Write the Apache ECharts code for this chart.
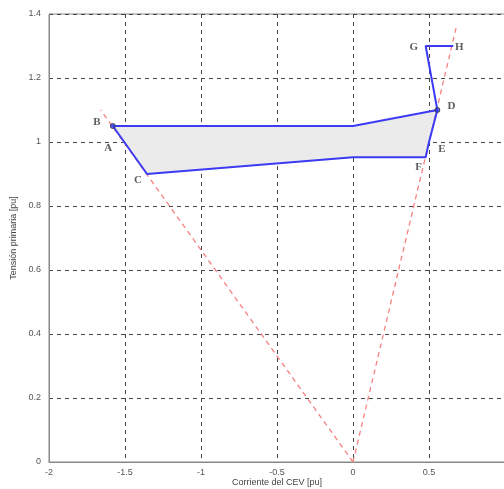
<!DOCTYPE html>
<html><head><meta charset="utf-8">
<script src="https://cdn.jsdelivr.net/npm/echarts@6/dist/echarts.min.js"></script>
<style>html,body{margin:0;padding:0;background:#fff}#c{width:504px;height:489px}</style>
</head><body><div id="c"></div>
<script>
// Blue operating path (x = current, y = voltage)
const pathX = [0.66, 0.478, 0.555, 0, -1.58, -1.505, -1.355, 0, 0.478, 0.50, 0.555];
const pathY = [1.30, 1.30, 1.10, 1.05, 1.05, 1.00, 0.90, 0.952, 0.952, 1.00, 1.10];
// Shaded region
const polyX = [-1.58, 0, 0.555, 0.50, 0.478, 0, -1.355, -1.505];
const polyY = [1.05, 1.05, 1.10, 1.00, 0.952, 0.952, 0.90, 1.00];
// Red dashed reference lines through the origin
const refLeftX = [0, -1.66], refLeftY = [0, 1.10];
const refRightX = [0, 0.68], refRightY = [0, 1.36];
// Point labels
const ptNames = ['A', 'B', 'C', 'D', 'E', 'F', 'G', 'H'];
const ptX = [-1.505, -1.58, -1.355, 0.555, 0.50, 0.478, 0.478, 0.66];
const ptY = [1.00, 1.05, 0.90, 1.10, 1.00, 0.952, 1.30, 1.30];
const ptOffsets = [[-16, 6], [-16, -4], [-9, 6], [14, -4], [13, 7], [-7, 10], [-12, 1], [6, 1]];
// Markers
const mkX = [-1.58, 0.555];
const mkY = [1.05, 1.10];
// Ticks
const xTicks = [-2, -1.5, -1, -0.5, 0, 0.5, 1];
const yTicks = [0, 0.2, 0.4, 0.6, 0.8, 1, 1.2, 1.4];

const zip = (a, b) => a.map((v, i) => [v, b[i]]);
const chart = echarts.init(document.getElementById('c'));
const gridLine = {show: true, lineStyle: {color: '#444', type: [4, 4], width: 1}};
chart.setOption({
  animation: false,
  grid: {left: 49, top: 14, width: 456, height: 448, containLabel: false, outerBoundsMode: 'none',
    show: true, borderColor: '#888', borderWidth: 1},
  xAxis: {
    type: 'value', min: -2, max: 1, interval: 0.5,
    name: 'Corriente del CEV [pu]', nameLocation: 'middle', nameGap: 16, nameMoveOverlap: false,
    nameTextStyle: {fontFamily: 'Liberation Sans', fontSize: 9, color: '#444'},
    axisLine: {show: true, onZero: false, lineStyle: {color: '#888'}},
    axisTick: {show: false},
    axisLabel: {fontFamily: 'Liberation Sans', fontSize: 9, color: '#555', margin: 6,
      formatter: v => xTicks.indexOf(v) >= 0 && v !== 1 ? String(v) : ''},
    splitLine: gridLine
  },
  yAxis: {
    type: 'value', min: 0, max: 1.4, interval: 0.2,
    name: 'Tensión primaria [pu]', nameLocation: 'middle', nameGap: 31, nameMoveOverlap: false,
    nameTextStyle: {fontFamily: 'Liberation Sans', fontSize: 9, color: '#444'},
    axisLine: {show: true, onZero: false, lineStyle: {color: '#888'}},
    axisTick: {show: false},
    axisLabel: {fontFamily: 'Liberation Sans', fontSize: 9, color: '#555', margin: 8,
      formatter: v => { const t = yTicks.find(t => Math.abs(t - v) < 1e-9); return t === undefined ? '' : String(+t.toFixed(1)); }},
    splitLine: gridLine
  },
  series: [
    {
      type: 'custom', z: 1, silent: true,
      renderItem: (params, api) => ({
        type: 'polygon',
        shape: {points: polyX.map((x, i) => api.coord([x, polyY[i]]))},
        style: {fill: '#ebebeb', stroke: 'none'}
      }),
      data: [[0, 0]]
    },
    {type: 'line', z: 2, data: zip(refLeftX, refLeftY), symbol: 'none',
      lineStyle: {color: '#f78080', width: 1.3, type: [5, 4]}},
    {type: 'line', z: 2, data: zip(refRightX, refRightY), symbol: 'none',
      lineStyle: {color: '#f78080', width: 1.3, type: [5, 4]}},
    {type: 'line', z: 3, data: zip(pathX, pathY), symbol: 'none',
      lineStyle: {color: '#3b3bf5', width: 2}},
    {type: 'scatter', z: 4, data: zip(mkX, mkY), symbol: 'circle', symbolSize: 5,
      itemStyle: {color: '#3b3bf5', borderColor: '#333', borderWidth: 1}},
    {type: 'scatter', z: 5, symbolSize: 0,
      data: ptNames.map((n, i) => ({name: n, value: [ptX[i], ptY[i]],
        label: {offset: ptOffsets[i]}})),
      label: {show: true, position: 'inside', formatter: p => p.name,
        fontFamily: 'Liberation Serif', fontWeight: 'bold', fontSize: 11, color: '#333'}}
  ]
});
</script></body></html>
